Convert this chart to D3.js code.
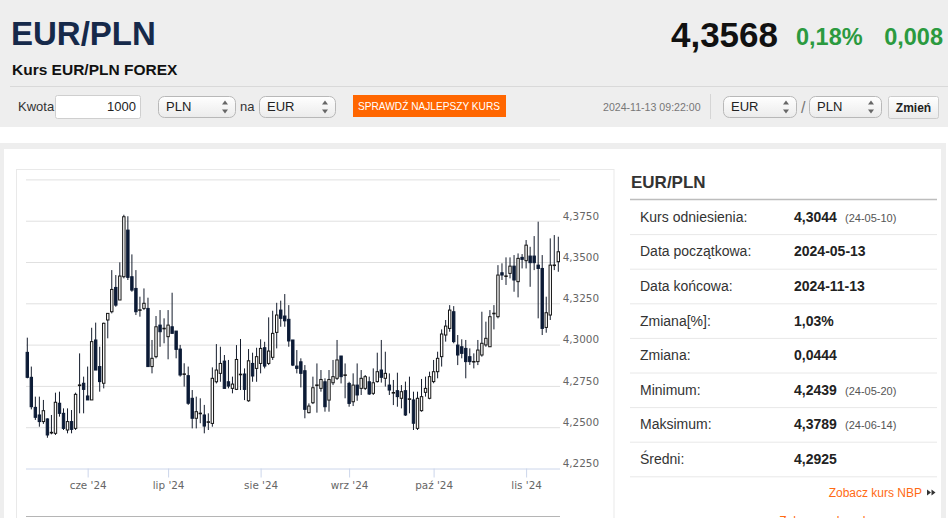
<!DOCTYPE html>
<html><head><meta charset="utf-8">
<script src="https://cdn.jsdelivr.net/npm/d3@7"></script>
<style>
html,body{margin:0;padding:0;background:#fff;}
svg{display:block;font-family:"Liberation Sans",Arial,sans-serif;}
</style></head>
<body>
<svg id="c" width="948" height="518"></svg>
<script>
// ---------- DATA ----------
const startDate = "2024-05-13";
const endDate = "2024-11-13";
const openV = [4.2956,4.2805,4.2623,4.2577,4.2537,4.2553,4.2468,4.2466,4.2648,4.2587,4.2486,4.2537,4.2496,4.2755,4.2769,4.2692,4.2668,4.3031,4.2870,4.2769,
4.3152,4.3202,4.3349,4.3273,4.3414,4.3696,4.3414,4.3343,4.3210,4.3222,4.3222,4.2870,4.2930,4.3121,4.3100,4.3051,4.3111,4.3085,4.2976,4.2824,
4.2815,4.2678,4.2557,4.2586,4.2577,4.2534,4.2526,4.2778,4.2829,4.2903,4.2778,4.2738,4.2732,4.2822,4.2825,4.2663,4.2889,4.2859,4.2889,4.2984,
4.2889,4.2926,4.3077,4.3212,4.3176,4.3156,4.3031,4.2873,4.2899,4.2845,4.2591,4.2651,4.2757,4.2738,4.2778,4.2667,4.2772,4.2799,4.2934,4.2818,
4.2768,4.2657,4.2758,4.2738,4.2738,4.2778,4.2708,4.2779,4.2849,4.2799,4.2758,4.2711,4.2724,4.2678,4.2724,4.2673,4.2668,4.2496,4.2603,4.2714,
4.2678,4.2779,4.2839,4.2930,4.3061,4.3101,4.3202,4.3000,4.2990,4.2980,4.2930,4.2899,4.2900,4.2940,4.3001,4.2990,4.3191,4.3172,4.3438,4.3417,
4.3434,4.3478,4.3384,4.3531,4.3511,4.3539,4.3539,4.3484,4.3464,4.3107,4.3182,4.3483,4.3505];
const highV = [4.3045,4.2870,4.2688,4.2688,4.2668,4.2557,4.2577,4.2712,4.2718,4.2617,4.2617,4.2607,4.2712,4.2950,4.2809,4.2870,4.3105,4.3136,4.2990,4.3136,
4.3192,4.3454,4.3424,4.3501,4.3789,4.3780,4.3549,4.3454,4.3293,4.3343,4.3287,4.3031,4.3176,4.3212,4.3162,4.3212,4.3317,4.3085,4.3001,4.2890,
4.2870,4.2728,4.2688,4.2678,4.2638,4.2587,4.2865,4.3006,4.2990,4.2940,4.2910,4.2809,4.3000,4.3037,4.2859,4.2976,4.2954,4.2984,4.3035,4.3020,
4.3168,4.3208,4.3256,4.3269,4.3309,4.3242,4.3031,4.2970,4.2920,4.2879,4.2647,4.2809,4.2889,4.2849,4.2799,4.2849,4.2910,4.3031,4.2934,4.2889,
4.2778,4.2829,4.2889,4.2849,4.2819,4.2809,4.2859,4.2954,4.3031,4.2960,4.2829,4.2789,4.2833,4.2758,4.2779,4.2809,4.2718,4.2718,4.2795,4.2809,
4.2839,4.2910,4.2960,4.3095,4.3152,4.3242,4.3236,4.3061,4.3035,4.3031,4.2980,4.2950,4.3031,4.3202,4.3142,4.3212,4.3242,4.3484,4.3495,4.3531,
4.3531,4.3545,4.3555,4.3551,4.3636,4.3595,4.3660,4.3747,4.3545,4.3293,4.3646,4.3666,4.3656];
const lowV = [4.2799,4.2611,4.2547,4.2506,4.2523,4.2439,4.2460,4.2456,4.2567,4.2486,4.2466,4.2466,4.2486,4.2587,4.2587,4.2668,4.2668,4.2849,4.2718,4.2738,
4.3041,4.3192,4.3232,4.3273,4.3404,4.3394,4.3323,4.3182,4.3172,4.3212,4.2870,4.2829,4.2920,4.2990,4.3011,4.2914,4.3071,4.2920,4.2809,4.2749,
4.2638,4.2496,4.2496,4.2527,4.2466,4.2486,4.2506,4.2768,4.2778,4.2738,4.2738,4.2708,4.2728,4.2728,4.2667,4.2657,4.2778,4.2778,4.2829,4.2859,
4.2879,4.2910,4.2980,4.3111,4.3111,4.2990,4.2873,4.2829,4.2744,4.2557,4.2587,4.2643,4.2591,4.2718,4.2597,4.2597,4.2758,4.2789,4.2768,4.2678,
4.2627,4.2631,4.2663,4.2698,4.2728,4.2698,4.2698,4.2773,4.2773,4.2749,4.2698,4.2637,4.2627,4.2617,4.2571,4.2587,4.2486,4.2486,4.2597,4.2688,
4.2672,4.2769,4.2799,4.2870,4.3021,4.3081,4.3011,4.2879,4.2920,4.2799,4.2880,4.2859,4.2879,4.2930,4.2990,4.2990,4.3095,4.3162,4.3394,4.3364,
4.3404,4.3323,4.3289,4.3464,4.3464,4.3353,4.3454,4.3162,4.3061,4.3075,4.3152,4.3454,4.3444];
const closeV = [4.2805,4.2627,4.2563,4.2537,4.2603,4.2456,4.2472,4.2654,4.2587,4.2496,4.2537,4.2490,4.2702,4.2759,4.2732,4.2668,4.3021,4.2849,4.2779,4.3132,
4.3192,4.3337,4.3242,4.3418,4.3777,4.3410,4.3333,4.3202,4.3214,4.3253,4.2870,4.2920,4.3111,4.3081,4.3102,4.3121,4.3071,4.2974,4.2819,4.2826,
4.2648,4.2557,4.2597,4.2588,4.2510,4.2536,4.2799,4.2849,4.2889,4.2738,4.2752,4.2764,4.2913,4.2824,4.2732,4.2905,4.2813,4.2930,4.2980,4.2873,
4.2964,4.3071,4.3182,4.3162,4.3147,4.3025,4.2879,4.2859,4.2829,4.2611,4.2631,4.2742,4.2759,4.2792,4.2627,4.2792,4.2809,4.2910,4.2809,4.2820,
4.2647,4.2758,4.2698,4.2799,4.2809,4.2704,4.2772,4.2839,4.2805,4.2829,4.2728,4.2713,4.2688,4.2718,4.2577,4.2675,4.2527,4.2678,4.2688,4.2738,
4.2809,4.2839,4.2920,4.3067,4.3115,4.3212,4.3021,4.2940,4.2950,4.2900,4.2900,4.2901,4.2970,4.3011,4.3041,4.3172,4.3193,4.3424,4.3424,4.3419,
4.3478,4.3394,4.3525,4.3519,4.3605,4.3499,4.3499,4.3464,4.3101,4.3196,4.3484,4.3485,4.3565];
const yTicks = [4.225,4.25,4.275,4.30,4.325,4.35,4.375,4.40];
const monthNames = ["sty","lut","mar","kwi","maj","cze","lip","sie","wrz","paź","lis","gru"];
const statLabels = ["Kurs odniesienia:","Data początkowa:","Data końcowa:","Zmiana[%]:","Zmiana:","Minimum:","Maksimum:","Średni:"];
const statValues = ["4,3044","2024-05-13","2024-11-13","1,03%","0,0444","4,2439","4,3789","4,2925"];
const statNotes = ["(24-05-10)","","","","","(24-05-20)","(24-06-14)",""];

// trading days (weekdays) of the period
const dates = [];
for (let d = new Date(startDate+"T12:00:00Z"); d <= new Date(endDate+"T12:00:00Z"); d = new Date(d.getTime()+86400000)) {
  const wd = d.getUTCDay(); if (wd !== 0 && wd !== 6) dates.push(new Date(d));
}
const candles = dates.map((d,i)=>({d, i, o:openV[i], h:highV[i], l:lowV[i], c:closeV[i]}));

const svg = d3.select("#c");
const fmt4 = v => d3.format(".4f")(v).replace(".", ",");

// ---------- HEADER ----------
svg.append("rect").attr("x",0).attr("y",0).attr("width",948).attr("height",127).attr("fill","#eeeeee");
svg.append("text").attr("x",11).attr("y",45).attr("font-size",33).attr("font-weight","bold").attr("fill","#16294a").text("EUR/PLN");
svg.append("text").attr("x",12).attr("y",75).attr("font-size",15.5).attr("font-weight","bold").attr("fill","#111").text("Kurs EUR/PLN FOREX");
svg.append("text").attr("x",778).attr("y",47).attr("text-anchor","end").attr("font-size",35).attr("font-weight","bold").attr("fill","#111").text("4,3568");
svg.append("text").attr("x",796).attr("y",45).attr("font-size",23.5).attr("font-weight","bold").attr("fill","#2b9a3f").text("0,18%");
svg.append("text").attr("x",943).attr("y",45).attr("text-anchor","end").attr("font-size",23.5).attr("font-weight","bold").attr("fill","#2b9a3f").text("0,008");
svg.append("line").attr("x1",10).attr("x2",948).attr("y1",86.5).attr("y2",86.5).attr("stroke","#d9d9d9");

const defs = svg.append("defs");
const g1 = defs.append("linearGradient").attr("id","selg").attr("x1",0).attr("x2",0).attr("y1",0).attr("y2",1);
g1.append("stop").attr("offset","0").attr("stop-color","#ffffff");
g1.append("stop").attr("offset","1").attr("stop-color","#ebebeb");

svg.append("text").attr("x",18).attr("y",111).attr("font-size",13).attr("fill","#333").text("Kwota");
svg.append("rect").attr("x",55.5).attr("y",95.5).attr("width",85).attr("height",23).attr("rx",2).attr("fill","#fff").attr("stroke","#cfcfcf");
svg.append("text").attr("x",136).attr("y",111).attr("text-anchor","end").attr("font-size",13).attr("fill","#222").text("1000");

function selectBox(x, w, label) {
  svg.append("rect").attr("x",x+0.5).attr("y",96.5).attr("width",w).attr("height",21).attr("rx",6).attr("fill","url(#selg)").attr("stroke","#b8b8b8");
  svg.append("text").attr("x",x+8).attr("y",111).attr("font-size",13).attr("fill","#222").text(label);
  const ax = x + w - 10;
  svg.append("path").attr("d",`M${ax-3},104.5 L${ax+3},104.5 L${ax},100.5 Z M${ax-3},109.5 L${ax+3},109.5 L${ax},113.5 Z`).attr("fill","#666");
}
selectBox(158, 77, "PLN");
svg.append("text").attr("x",240).attr("y",111).attr("font-size",13).attr("fill","#333").text("na");
selectBox(259, 76, "EUR");
svg.append("rect").attr("x",353).attr("y",95).attr("width",153).attr("height",22).attr("fill","#ff6600");
svg.append("text").attr("x",358).attr("y",110).attr("font-size",11.5).attr("fill","#fff").attr("textLength",142).attr("lengthAdjust","spacingAndGlyphs").text("SPRAWDŹ NAJLEPSZY KURS");

svg.append("text").attr("x",603).attr("y",111).attr("font-size",10.6).attr("fill","#777").text("2024-11-13 09:22:00");
svg.append("line").attr("x1",710.5).attr("x2",710.5).attr("y1",94).attr("y2",119).attr("stroke","#d5d5d5");
selectBox(723, 73, "EUR");
svg.append("text").attr("x",801).attr("y",113).attr("font-size",16).attr("fill","#777").text("/");
selectBox(809, 72, "PLN");
svg.append("rect").attr("x",888.5).attr("y",96.5).attr("width",50).attr("height",22).attr("rx",2).attr("fill","url(#selg)").attr("stroke","#cccccc");
svg.append("text").attr("x",913.5).attr("y",112).attr("text-anchor","middle").attr("font-size",12).attr("font-weight","bold").attr("fill","#222").text("Zmień");

// ---------- PANEL ----------
svg.append("rect").attr("x",0).attr("y",143).attr("width",946).attr("height",380).attr("fill","#eeeeee");
svg.append("rect").attr("x",4).attr("y",149).attr("width",937).attr("height",380).attr("fill","#ffffff");
svg.append("rect").attr("x",16.5).attr("y",169.5).attr("width",597.5).attr("height",400).attr("fill","none").attr("stroke","#e9e9e9");

// ---------- CHART ----------
const x = d3.scaleLinear().domain([0, candles.length-1]).range([27.3, 558.3]);
const y = d3.scaleLinear().domain([4.225, 4.40]).range([469, 179.9]);
const plotL = 26, plotR = 560;

const gGrid = svg.append("g");
gGrid.selectAll("line").data(yTicks.filter(t=>t>4.23)).join("line")
  .attr("x1",plotL).attr("x2",plotR).attr("y1",d=>y(d)).attr("y2",d=>y(d))
  .attr("stroke","#e0e0e0").attr("stroke-width",1);

// y labels
const yAxis = d3.axisRight(y).tickValues(yTicks.filter(t=>t<4.39)).tickSize(0).tickPadding(0).tickFormat(fmt4);
const gy = svg.append("g").attr("transform",`translate(${plotR+2.7},-5.5)`).call(yAxis);
gy.select(".domain").remove();
gy.selectAll("text").attr("font-family","'DejaVu Sans',Verdana,sans-serif").attr("font-size",10.4).attr("fill","#666");

// x axis
const monthStarts = [];
candles.forEach((c,i)=>{ if (i>0 && c.d.getUTCMonth() !== candles[i-1].d.getUTCMonth()) monthStarts.push(i); });
const xAxis = d3.axisBottom(x).tickValues(monthStarts).tickSize(9).tickPadding(4)
  .tickFormat(i => monthNames[candles[i].d.getUTCMonth()] + " '" + String(candles[i].d.getUTCFullYear()).slice(2));
const gx = svg.append("g").attr("transform","translate(0,468.5)").call(xAxis);
gx.select(".domain").attr("d",`M${plotL},0.5H${plotR}`).attr("stroke","#ccd6eb");
gx.selectAll(".tick line").attr("stroke","#ccd6eb");
gx.selectAll("text").attr("font-family","'DejaVu Sans',Verdana,sans-serif").attr("font-size",10.4).attr("fill","#666");

svg.append("line").attr("x1",plotL).attr("x2",plotR).attr("y1",516.5).attr("y2",516.5).attr("stroke","#b5b5b5");

// candles
const gc = svg.append("g");
const bw = 2.4;
gc.selectAll("line.wick").data(candles).join("line").attr("class","wick")
  .attr("x1",d=>x(d.i)).attr("x2",d=>x(d.i)).attr("y1",d=>y(d.h)).attr("y2",d=>y(d.l))
  .attr("stroke","#141c2c").attr("stroke-width",1);
gc.selectAll("rect.body").data(candles).join("rect").attr("class","body")
  .attr("x",d=>x(d.i)-bw/2).attr("width",bw)
  .attr("y",d=>y(Math.max(d.o,d.c)))
  .attr("height",d=>Math.max(0.6, Math.abs(y(d.o)-y(d.c))))
  .attr("fill",d=>d.c < d.o ? "#0c1b36" : "#ffffff")
  .attr("stroke",d=>d.c < d.o ? "#0c1b36" : "#151515").attr("stroke-width",1);

// ---------- STATS TABLE ----------
svg.append("text").attr("x",631).attr("y",188).attr("font-size",17).attr("font-weight","bold").attr("fill","#333").text("EUR/PLN");
svg.append("line").attr("x1",630).attr("x2",937).attr("y1",199.5).attr("y2",199.5).attr("stroke","#bdbdbd").attr("stroke-width",1.5);
const rowTop = 199.5, rowH = 34.6;
statLabels.forEach((lab,k)=>{
  const base = rowTop + rowH*k + rowH/2 + 5;
  svg.append("text").attr("x",640).attr("y",base).attr("font-size",14).attr("fill","#333").text(lab);
  svg.append("text").attr("x",794).attr("y",base).attr("font-size",14).attr("font-weight","bold").attr("fill","#222").text(statValues[k]);
  if (statNotes[k]) svg.append("text").attr("x",845).attr("y",base).attr("font-size",11).attr("fill","#555").text(statNotes[k]);
  svg.append("line").attr("x1",630).attr("x2",937).attr("y1",rowTop+rowH*(k+1)+0.5).attr("y2",rowTop+rowH*(k+1)+0.5).attr("stroke","#e8e8e8");
});
svg.append("text").attr("x",922).attr("y",497).attr("text-anchor","end").attr("font-size",12).attr("fill","#ff6a13").text("Zobacz kurs NBP");
svg.append("path").attr("d","M927,489.5 L931,492.5 L927,495.5 Z M931.5,489.5 L935.5,492.5 L931.5,495.5 Z").attr("fill","#333");
svg.append("text").attr("x",892).attr("y",525).attr("text-anchor","end").attr("font-size",12).attr("fill","#ff6a13").text("Zobacz wykres kursu");
</script>
</body></html>
